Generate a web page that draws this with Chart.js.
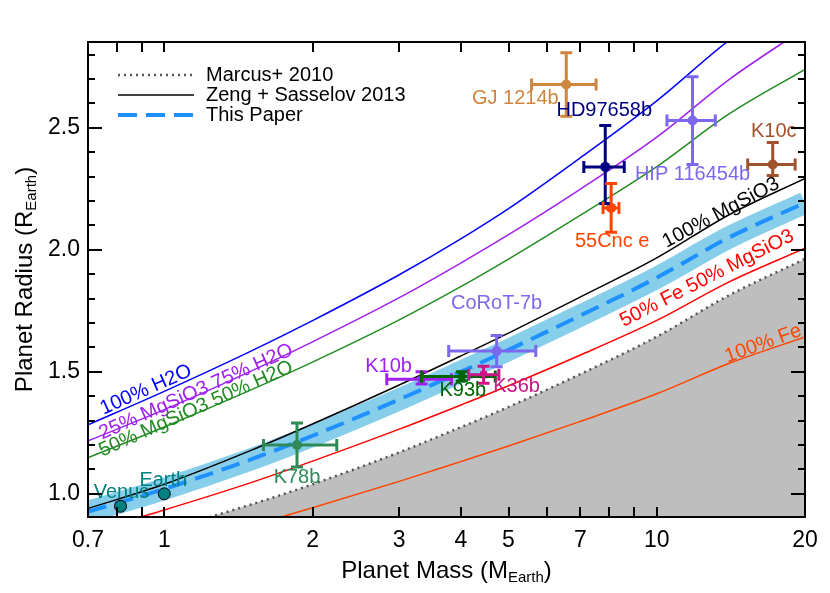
<!DOCTYPE html>
<html>
<head>
<meta charset="utf-8">
<script src="https://cdn.jsdelivr.net/npm/chart.js@4.4.1/dist/chart.umd.min.js"></script>
<style>
  html, body { margin: 0; padding: 0; background: #fff; }
</style>
</head>
<body>
<canvas id="massRadius" width="830" height="593"></canvas>
<script>
// mass grid (Earth masses) the model curves are read at
const massGrid = [0.7, 1, 1.5, 2, 3, 4, 5, 7, 10, 14, 20];

// model radii (Earth radii) on massGrid
const rH2O     = [1.283, 1.420, 1.585, 1.710, 1.898, 2.045, 2.169, 2.378, 2.611, 2.858, 3.076];
const rRock25  = [1.217, 1.345, 1.503, 1.623, 1.804, 1.946, 2.062, 2.249, 2.462, 2.697, 2.909];
const rRock50  = [1.148, 1.274, 1.426, 1.540, 1.713, 1.849, 1.962, 2.142, 2.341, 2.556, 2.740];
const rRock    = [0.940, 1.039, 1.178, 1.286, 1.446, 1.565, 1.659, 1.807, 1.967, 2.143, 2.293];
const rFit     = [0.927, 1.020, 1.141, 1.238, 1.387, 1.500, 1.590, 1.731, 1.886, 2.050, 2.193];
const rFeRock  = [0.842, 0.934, 1.046, 1.134, 1.265, 1.364, 1.443, 1.569, 1.711, 1.868, 2.007];
const rIron    = [0.698, 0.774, 0.869, 0.943, 1.051, 1.132, 1.196, 1.297, 1.410, 1.534, 1.643];
const rMarcus  = [0.767, 0.851, 0.956, 1.039, 1.170, 1.273, 1.356, 1.491, 1.644, 1.813, 1.963];

// planets
const planetNames = ['Venus', 'Earth', 'K78b', 'K10b', 'K93b', 'K36b', 'CoRoT-7b', 'GJ 1214b', 'HD97658b', '55Cnc e', 'HIP 116454b', 'K10c'];
const planetMass  = [0.815, 1.0, 1.86, 3.33, 4.02, 4.45, 4.73, 6.55, 7.86, 8.08, 11.82, 17.2];
const massErrLo   = [0, 0, 0.27, 0.5, 0.69, 0.3, 0.95, 0.98, 0.75, 0.3, 1.33, 1.9];
const massErrHi   = [0, 0, 0.38, 0.5, 0.68, 0.33, 0.95, 0.98, 0.73, 0.3, 1.33, 1.9];
const planetRad   = [0.949, 1.0, 1.20, 1.47, 1.481, 1.488, 1.585, 2.678, 2.34, 2.172, 2.53, 2.35];
const radErrLo    = [0, 0, 0.09, 0.02, 0.019, 0.035, 0.064, 0.13, 0.15, 0.10, 0.18, 0.045];
const radErrHi    = [0, 0, 0.09, 0.03, 0.019, 0.035, 0.064, 0.13, 0.17, 0.10, 0.18, 0.09];

// axis ticks
const xTickLabels = [0.7, 1, 2, 3, 4, 5, 7, 10, 20];
const xTickMarks  = [0.8, 0.9, 1, 2, 3, 4, 5, 6, 7, 8, 9, 10];
const yTickLabels = [1.0, 1.5, 2.0, 2.5];
const yMinorMarks = [1.0, 1.1, 1.2, 1.3, 1.4, 1.5, 1.6, 1.7, 1.8, 1.9, 2.0, 2.1, 2.2, 2.3, 2.4, 2.5, 2.6, 2.7, 2.8];

// styling for the planets (same order as planetNames)
const planetColors = ['#008080', '#008080', '#2E8B57', '#A020F0', '#006400', '#C71585', '#7B68EE', '#CD853F', '#000080', '#FF4500', '#7B68EE', '#A0522D'];
const planetShapes = ['circle', 'circle', 'circle', 'rect', 'rect', 'rect', 'circle', 'circle', 'circle', 'circle', 'circle', 'circle'];
const labelOffsets = [[1, -14], [-1, -13], [0, 32], [-33, -13], [1, 14], [33, 12], [0, -48], [-51, 14], [-1, -56], [1, 34], [0, 54], [1, -33]];

// curve labels: text, mass, radius at the text centre, angle
const curveLabels = [
  ['100% H2O', 0.918, 1.426, -24, '#0000FF'],
  ['25% MgSiO3 75% H2O', 1.16, 1.418, -24, '#A020F0'],
  ['50% MgSiO3 50% H2O', 1.16, 1.348, -24, '#228B22'],
  ['100% MgSiO3', 13.5, 2.152, -28, '#000000'],
  ['50% Fe 50% MgSiO3', 12.65, 1.883, -27, '#FF0000'],
  ['100% Fe', 16.45, 1.615, -20, '#FF4500']
];

const FONT = '"Liberation Sans", Arial, Helvetica, sans-serif';

const toXY = (ys) => massGrid.map((m, i) => ({ x: m, y: ys[i] }));

function curve(ys, color, width, order, extra) {
  return Object.assign({
    type: 'line',
    data: toXY(ys),
    borderColor: color,
    borderWidth: width,
    pointRadius: 0,
    fill: false,
    cubicInterpolationMode: 'monotone',
    order: order
  }, extra || {});
}

// ticks inside the frame on all four sides, plus the box itself
const frameTicks = {
  id: 'frameTicks',
  afterDraw(chart) {
    const { ctx, chartArea: a, scales: { x, y } } = chart;
    ctx.save();
    ctx.strokeStyle = '#000';
    ctx.lineWidth = 2;
    ctx.beginPath();
    xTickMarks.forEach(v => {
      const px = Math.round(x.getPixelForValue(v));
      ctx.moveTo(px, a.bottom); ctx.lineTo(px, a.bottom - 10);
      ctx.moveTo(px, a.top); ctx.lineTo(px, a.top + 10);
    });
    yMinorMarks.forEach(v => {
      const py = Math.round(y.getPixelForValue(v));
      const len = yTickLabels.some(t => Math.abs(t - v) < 1e-6) ? 14 : 7;
      ctx.moveTo(a.left, py); ctx.lineTo(a.left + len, py);
      ctx.moveTo(a.right, py); ctx.lineTo(a.right - len, py);
    });
    ctx.stroke();
    ctx.strokeRect(a.left, a.top, a.right - a.left, a.bottom - a.top);

    // axis titles with subscripts
    drawSubTitle(ctx, 'Planet Mass (M', 'Earth', ')', (a.left + a.right) / 2, 571, 0);
    drawSubTitle(ctx, 'Planet Radius (R', 'Earth', ')', 25, (a.top + a.bottom) / 2, -Math.PI / 2);
    ctx.restore();
  }
};

function drawSubTitle(ctx, main, sub, tail, cx, cy, rot) {
  ctx.save();
  ctx.translate(cx, cy);
  ctx.rotate(rot);
  ctx.fillStyle = '#000';
  ctx.textBaseline = 'middle';
  ctx.textAlign = 'left';
  const big = '24px ' + FONT, small = '15px ' + FONT;
  ctx.font = big; const w1 = ctx.measureText(main).width; const w3 = ctx.measureText(tail).width;
  ctx.font = small; const w2 = ctx.measureText(sub).width;
  let x0 = -(w1 + w2 + w3) / 2;
  ctx.font = big; ctx.fillText(main, x0, 0);
  ctx.font = small; ctx.fillText(sub, x0 + w1, 7);
  ctx.font = big; ctx.fillText(tail, x0 + w1 + w2, 0);
  ctx.restore();
}

// error bars, planet names, curve names, legend
const annotations = {
  id: 'annotations',
  afterDatasetsDraw(chart) {
    const { ctx, chartArea: a, scales: { x, y } } = chart;
    ctx.save();
    ctx.beginPath();
    ctx.rect(a.left, a.top, a.right - a.left, a.bottom - a.top);
    ctx.clip();

    ctx.lineWidth = 3;
    planetNames.forEach((name, i) => {
      if (!massErrLo[i] && !radErrLo[i]) return;
      const px = x.getPixelForValue(planetMass[i]);
      const py = y.getPixelForValue(planetRad[i]);
      const x0 = x.getPixelForValue(planetMass[i] - massErrLo[i]);
      const x1 = x.getPixelForValue(planetMass[i] + massErrHi[i]);
      const y0 = y.getPixelForValue(planetRad[i] - radErrLo[i]);
      const y1 = y.getPixelForValue(planetRad[i] + radErrHi[i]);
      ctx.strokeStyle = planetColors[i];
      ctx.beginPath();
      ctx.moveTo(x0, py); ctx.lineTo(x1, py);
      ctx.moveTo(x0, py - 6); ctx.lineTo(x0, py + 6);
      ctx.moveTo(x1, py - 6); ctx.lineTo(x1, py + 6);
      ctx.moveTo(px, y0); ctx.lineTo(px, y1);
      ctx.moveTo(px - 6, y0); ctx.lineTo(px + 6, y0);
      ctx.moveTo(px - 6, y1); ctx.lineTo(px + 6, y1);
      ctx.stroke();
    });

    ctx.font = '20px ' + FONT;
    ctx.textAlign = 'center';
    ctx.textBaseline = 'middle';
    planetNames.forEach((name, i) => {
      ctx.fillStyle = planetColors[i];
      ctx.fillText(name, x.getPixelForValue(planetMass[i]) + labelOffsets[i][0], y.getPixelForValue(planetRad[i]) + labelOffsets[i][1]);
    });

    curveLabels.forEach(([text, m, r, ang, col]) => {
      ctx.save();
      ctx.translate(x.getPixelForValue(m), y.getPixelForValue(r));
      ctx.rotate(ang * Math.PI / 180);
      ctx.fillStyle = col;
      ctx.fillText(text, 0, 0);
      ctx.restore();
    });
    ctx.restore();

    // legend
    ctx.save();
    const rows = [
      ['Marcus+ 2010', '#555555', 2.5, [2, 4]],
      ['Zeng + Sasselov 2013', '#000000', 1.5, []],
      ['This Paper', '#1E90FF', 4, [19, 9]]
    ];
    ctx.font = '20px ' + FONT;
    ctx.textBaseline = 'middle';
    ctx.textAlign = 'left';
    rows.forEach(([label, col, w, dash], k) => {
      const ly = 75 + k * 20;
      ctx.strokeStyle = col;
      ctx.lineWidth = w;
      ctx.setLineDash(dash);
      ctx.beginPath();
      ctx.moveTo(118, ly); ctx.lineTo(194, ly);
      ctx.stroke();
      ctx.setLineDash([]);
      ctx.fillStyle = '#000';
      ctx.fillText(label, 206, ly);
    });
    ctx.restore();
  }
};

new Chart(document.getElementById('massRadius').getContext('2d'), {
  type: 'scatter',
  data: {
    datasets: [
      curve(rMarcus, '#555555', 2.5, 10, { fill: 'start', backgroundColor: '#BEBEBE', borderDash: [2, 4] }),
      curve(rFit, '#87CEEB', 22, 9, { borderCapStyle: 'butt' }),
      curve(rH2O, '#0000FF', 1.5, 6),
      curve(rRock25, '#A020F0', 1.5, 6),
      curve(rRock50, '#228B22', 1.5, 6),
      curve(rRock, '#000000', 1.5, 6),
      curve(rFeRock, '#FF0000', 1.5, 6),
      curve(rIron, '#FF4500', 1.5, 6),
      curve(rFit, '#1E90FF', 4, 5, { borderDash: [19, 9] }),
      {
        type: 'scatter',
        data: planetMass.map((m, i) => ({ x: m, y: planetRad[i] })),
        pointStyle: planetShapes,
        pointRadius: planetNames.map((n, i) => i < 2 ? 6 : 5),
        pointBackgroundColor: planetColors,
        pointBorderColor: planetNames.map((n, i) => i < 2 ? '#000' : planetColors[i]),
        pointBorderWidth: planetNames.map((n, i) => i < 2 ? 1 : 0),
        order: 1
      }
    ]
  },
  options: {
    responsive: false,
    animation: false,
    devicePixelRatio: 1,
    layout: { padding: { top: 42, right: 25, left: 0, bottom: 0 } },
    plugins: { legend: { display: false }, tooltip: { enabled: false } },
    scales: {
      x: {
        type: 'logarithmic',
        min: 0.7,
        max: 20,
        grid: { display: false, drawTicks: false },
        border: { display: false },
        afterBuildTicks: s => { s.ticks = xTickLabels.map(v => ({ value: v })); },
        afterFit: s => { s.height = 76; },
        ticks: {
          autoSkip: false, maxRotation: 0, padding: 10, color: '#000',
          font: { size: 23, family: FONT },
          callback: v => String(v)
        }
      },
      y: {
        type: 'linear',
        min: 0.905,
        max: 2.852,
        grid: { display: false, drawTicks: false },
        border: { display: false },
        afterBuildTicks: s => { s.ticks = yTickLabels.map(v => ({ value: v })); },
        afterFit: s => { s.width = 88; },
        ticks: {
          padding: 8, color: '#000',
          font: { size: 23, family: FONT },
          callback: v => v.toFixed(1)
        }
      }
    }
  },
  plugins: [annotations, frameTicks]
});
</script>
</body>
</html>
